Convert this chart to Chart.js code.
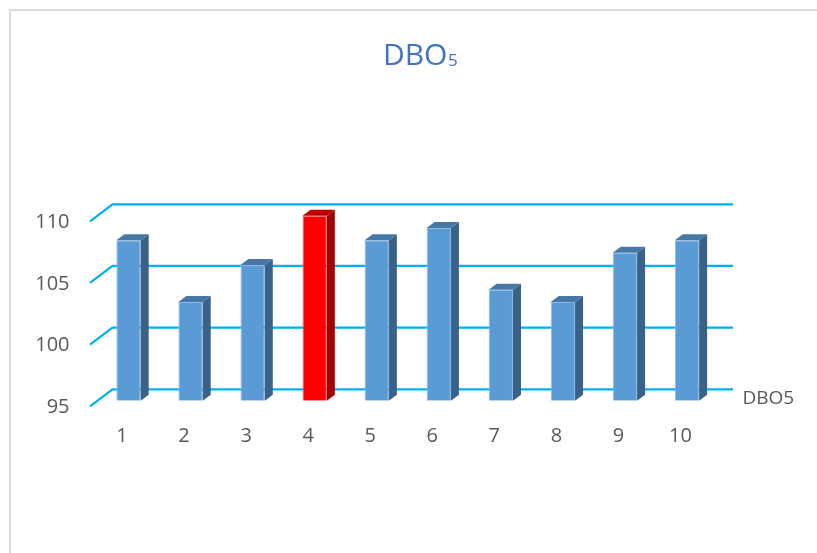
<!DOCTYPE html>
<html>
<head>
<meta charset="utf-8">
<title>DBO5</title>
<script src="https://cdn.jsdelivr.net/npm/chart.js@4"></script>
<style>
  body { margin: 0; background: #fff; }
  #wrap { position: relative; width: 817px; height: 553px; overflow: hidden; }
  #frame { position: absolute; left: 9px; top: 9px; width: 900px; height: 600px; border: 2px solid #d9d9d9; }
  canvas { position: absolute; left: 0; top: 0; }
</style>
</head>
<body>
<div id="wrap">
  <div id="frame"></div>
  <canvas id="chart" width="817" height="553"></canvas>
</div>
<script>
// data
const categories = ["1", "2", "3", "4", "5", "6", "7", "8", "9", "10"];
const dboValues = [108, 103, 106, 110, 108, 109, 104, 103, 107, 108];
const yTicks = [95, 100, 105, 110];
const seriesName = "DBO5";
const titleMain = "DBO";
const titleSub = "5";
const highlightIndex = 3;

// fake 3D offsets (pixels, relative to the bar front plane)
const backWall = { dx: 15, dy: -11.4 };
const frontEdge = { dx: -7.5, dy: 5.6 };
const barDepth = { dx: 8, dy: -6 };

const FONT = "'Open Sans', 'Liberation Sans', sans-serif";
const textGray = "#595959";

const frontColors = dboValues.map((v, i) => (i === highlightIndex ? "#ff0000" : "#5b9bd5"));
const edgeColors = dboValues.map((v, i) => (i === highlightIndex ? "#ff6a6a" : "#8db9e4"));
const sideColors = dboValues.map((v, i) => (i === highlightIndex ? "#a50000" : "#3a6289"));
const topColors = dboValues.map((v, i) => (i === highlightIndex ? "#c00000" : "#4677a6"));

const gridPlugin = {
  id: "grid3d",
  beforeDatasetsDraw(chart) {
    const { ctx, chartArea } = chart;
    const y = chart.scales.y;
    ctx.save();
    ctx.strokeStyle = "#00b0f0";
    ctx.lineWidth = 2.2;
    y.ticks.forEach((t) => {
      const py = y.getPixelForValue(t.value);
      ctx.beginPath();
      ctx.moveTo(chartArea.left + frontEdge.dx, py + frontEdge.dy);
      ctx.lineTo(chartArea.left + backWall.dx, py + backWall.dy);
      ctx.lineTo(chartArea.right + backWall.dx, py + backWall.dy);
      ctx.stroke();
    });
    ctx.restore();
  },
};

const barsPlugin = {
  id: "bars3d",
  afterDatasetsDraw(chart) {
    const { ctx } = chart;
    const meta = chart.getDatasetMeta(0);
    ctx.save();
    meta.data.forEach((bar, i) => {
      const p = bar.getProps(["x", "y", "base", "width"], true);
      const l = p.x - p.width / 2;
      const r = p.x + p.width / 2;
      // side
      ctx.fillStyle = sideColors[i];
      ctx.beginPath();
      ctx.moveTo(r, p.y);
      ctx.lineTo(r + barDepth.dx, p.y + barDepth.dy);
      ctx.lineTo(r + barDepth.dx, p.base + barDepth.dy);
      ctx.lineTo(r, p.base);
      ctx.closePath();
      ctx.fill();
      // top
      ctx.fillStyle = topColors[i];
      ctx.beginPath();
      ctx.moveTo(l, p.y);
      ctx.lineTo(l + barDepth.dx, p.y + barDepth.dy);
      ctx.lineTo(r + barDepth.dx, p.y + barDepth.dy);
      ctx.lineTo(r, p.y);
      ctx.closePath();
      ctx.fill();
    });
    ctx.restore();
  },
};

const textPlugin = {
  id: "texts",
  afterDraw(chart) {
    const { ctx, chartArea } = chart;
    ctx.save();
    // title with subscript
    ctx.fillStyle = "#4472c4";
    ctx.textBaseline = "alphabetic";
    ctx.textAlign = "left";
    ctx.font = "30px " + FONT;
    const w1 = ctx.measureText(titleMain).width;
    ctx.font = "17px " + FONT;
    const w2 = ctx.measureText(titleSub).width;
    const x0 = chart.width / 2 + 11.5 - (w1 + w2) / 2;
    ctx.font = "30px " + FONT;
    ctx.fillText(titleMain, x0, 64.5);
    ctx.font = "17px " + FONT;
    ctx.fillText(titleSub, x0 + w1 + 0.5, 65.5);
    // series (depth axis) label
    ctx.fillStyle = textGray;
    ctx.font = "19px " + FONT;
    ctx.textBaseline = "middle";
    ctx.fillText(chart.data.datasets[0].label, chartArea.right + 24.5, chartArea.bottom - 2);
    ctx.restore();
  },
};

new Chart(document.getElementById("chart"), {
  type: "bar",
  data: {
    labels: categories,
    datasets: [
      {
        label: seriesName,
        data: dboValues,
        backgroundColor: frontColors,
        borderColor: edgeColors,
        borderWidth: 1,
        categoryPercentage: 1,
        barPercentage: 0.392,
        base: 95,
      },
    ],
  },
  options: {
    responsive: false,
    animation: false,
    layout: { padding: { left: 35, right: 99, top: 215.7, bottom: 102.3 } },
    plugins: {
      legend: { display: false },
      title: { display: false },
      tooltip: { enabled: false },
    },
    scales: {
      x: {
        grid: { display: false, drawTicks: false },
        border: { display: false },
        ticks: {
          color: textGray,
          font: { family: FONT, size: 20 },
          padding: 24,
          labelOffset: -6.5,
          maxRotation: 0,
        },
        afterFit(s) { s.height = 50; },
      },
      y: {
        min: 95,
        max: 110,
        grid: { display: false, drawTicks: false },
        border: { display: false },
        afterBuildTicks(s) { s.ticks = yTicks.map((v) => ({ value: v })); },
        ticks: {
          color: textGray,
          font: { family: FONT, size: 20 },
          padding: 28,
          labelOffset: 6.5,
        },
        afterFit(s) { s.width = 62.5; },
      },
    },
  },
  plugins: [gridPlugin, barsPlugin, textPlugin],
});
</script>
</body>
</html>
